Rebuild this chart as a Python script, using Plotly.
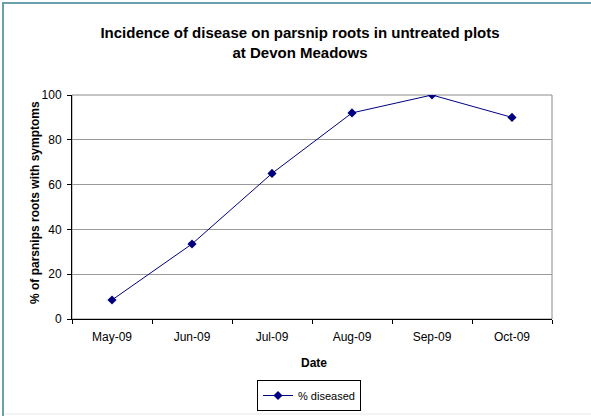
import plotly.graph_objects as go

# Monthly assessment of disease incidence, untreated plots
months = ["May-09", "Jun-09", "Jul-09", "Aug-09", "Sep-09", "Oct-09"]
pct_diseased = [8.5, 33.5, 65, 92, 100, 90]
y_ticks = [0, 20, 40, 60, 80, 100]

W, H = 591, 416
L, R, T, B = 72, 39, 95, 97
pw, ph = W - L - R, H - T - B


def px_x(px):
    return (px - L) / pw


def px_y(py):
    return (H - B - py) / ph


FONT = "Liberation Sans, Arial, sans-serif"
NAVY = "#000080"

fig = go.Figure()
fig.add_trace(go.Scatter(
    x=months, y=pct_diseased, mode="lines+markers", name="% diseased",
    line=dict(color=NAVY, width=1),
    marker=dict(symbol="diamond", size=7, color=NAVY),
))

fig.update_layout(
    width=W, height=H,
    margin=dict(l=L, r=R, t=T, b=B, autoexpand=False),
    paper_bgcolor="white", plot_bgcolor="white",
    font=dict(family=FONT, size=12, color="black"),
    title=dict(
        text="<b>Incidence of disease on parsnip roots in untreated plots<br>at Devon Meadows</b>",
        x=300 / W, xref="container", xanchor="center",
        y=1 - 38 / H, yref="container", yanchor="middle",
        font=dict(family=FONT, size=15, color="black"),
    ),
    showlegend=True,
    legend=dict(
        x=px_x(309), y=px_y(380), xanchor="center", yanchor="top",
        orientation="h", bordercolor="black", borderwidth=1,
        font=dict(family=FONT, size=11, color="black"),
        itemwidth=30, bgcolor="white", tracegroupgap=0,
    ),
    xaxis=dict(
        type="category", range=[-0.5, 5.5],
        showline=True, linecolor="black", linewidth=1,
        ticks="outside", ticklen=4, tickcolor="black", tickson="boundaries",
        showgrid=False, zeroline=False, ticklabelstandoff=7,
        tickfont=dict(family=FONT, size=12),
    ),
    yaxis=dict(
        range=[0, 100], tickvals=y_ticks,
        showline=True, linecolor="black", linewidth=1,
        ticks="outside", ticklen=4, tickcolor="black",
        showgrid=True, gridcolor="#9a9a9a", gridwidth=1,
        zeroline=False, ticklabelstandoff=3,
        tickfont=dict(family=FONT, size=12),
    ),
    shapes=[
        # plot-area frame (top and right edges grey)
        dict(type="rect", xref="paper", yref="paper", x0=0, x1=1, y0=0, y1=1,
             line=dict(color="#8c8c8c", width=1), layer="below"),
        # chart border, left and top edges
        dict(type="line", xref="paper", yref="paper",
             x0=px_x(3), x1=px_x(3), y0=px_y(2), y1=px_y(416),
             line=dict(color="#6a9fac", width=2)),
        dict(type="line", xref="paper", yref="paper",
             x0=px_x(2), x1=px_x(591), y0=px_y(3), y1=px_y(3),
             line=dict(color="#6a9fac", width=2)),
        dict(type="line", xref="paper", yref="paper",
             x0=px_x(4), x1=px_x(591), y0=px_y(414), y1=px_y(414),
             line=dict(color="#e8e8e8", width=1)),
    ],
    annotations=[
        dict(text="<b>% of parsnips roots with symptoms</b>", textangle=-90,
             xref="paper", yref="paper", x=px_x(35), y=px_y(203),
             xanchor="center", yanchor="middle", showarrow=False,
             font=dict(family=FONT, size=12, color="black")),
        dict(text="<b>Date</b>",
             xref="paper", yref="paper", x=px_x(314), y=px_y(363),
             xanchor="center", yanchor="middle", showarrow=False,
             font=dict(family=FONT, size=12, color="black")),
    ],
)

fig.write_html("out.html")
